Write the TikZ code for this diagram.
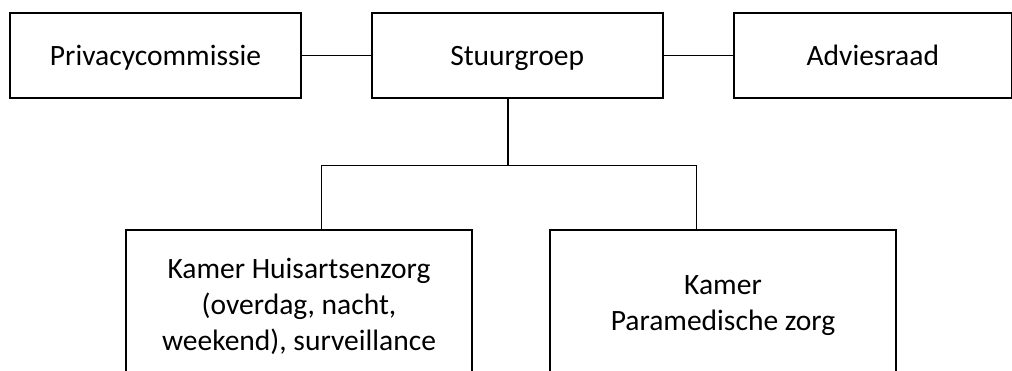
\documentclass[tikz,border=0pt]{standalone}
\usepackage{fontspec}
\setmainfont{Carlito}
\usepackage{tikz}

\begin{document}
\begin{tikzpicture}[x=0.02cm,y=-0.02cm,
  box/.style={draw=black,line width=1.1pt,inner sep=0pt,align=center,
    font=\fontsize{16.8}{20.5}\selectfont},
  topbox/.style={box,minimum height=1.71cm,text height=0.5cm,text depth=0.1cm},
  kamerbox/.style={box,minimum width=6.92cm,minimum height=3.04cm},
  link/.style={draw=black,line width=0.7pt}]
\clip (0,0) rectangle (1012,371);
\node [topbox,minimum width=5.82cm] (priv) at (155.5,55.4) {Privacycommissie};
\node [topbox,minimum width=5.82cm] (stuur) at (517.2,55.4) {Stuurgroep};
\node [topbox,minimum width=5.55cm] (advies) at (872.8,55.4) {Adviesraad};
\node [kamerbox] (huis) at (299,306) {Kamer Huisartsenzorg\\(overdag, nacht,\\weekend), surveillance};
\node [kamerbox] (para) at (723,306) {Kamer\\Paramedische zorg};
\coordinate (split) at (508,165.7);
\coordinate (bl) at (321.7,165.7);
\coordinate (br) at (696.7,165.7);
\draw [link] (priv.east) -- (stuur.west);
\draw [link] (stuur.east) -- (advies.west);
\draw [link] (stuur.south -| split) -- (split);
\draw [link] (huis.north -| bl) -- (bl) -- (br) -- (para.north -| br);
\end{tikzpicture}
\end{document}
